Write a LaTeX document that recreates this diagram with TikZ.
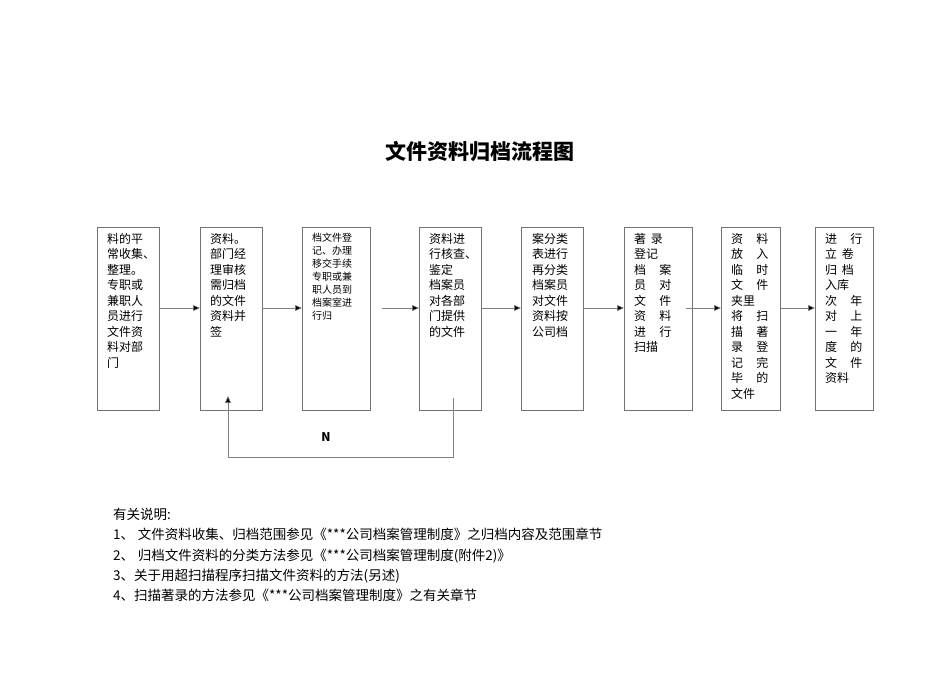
\documentclass[tikz,border=0pt]{standalone}
\usepackage{fontspec}
\setmainfont{Noto Sans CJK SC}
\usetikzlibrary{arrows.meta}
\newcommand{\gp}{\hspace{1.1em}}
\begin{document}
\begin{tikzpicture}[x=1pt,y=-1pt,
  box/.style={draw=black!55,line width=0.6pt},
  txt/.style={anchor=north west,align=left,font=\fontsize{12}{15.5}\selectfont,inner sep=0pt},
  arr/.style={draw=black!50,line width=0.6pt,-{Triangle[length=7pt,width=6pt,fill=black]}}]
\useasboundingbox (0,0) rectangle (950,673);
\node[font=\fontsize{21}{24}\selectfont\bfseries] (title) at (480,152) {文件资料归档流程图};
\foreach \n/\a/\b in {1/97/159,2/200/262,3/302/370,4/419/481,5/521/583,6/624/692,7/721/780,8/815/873}{
  \draw[box] (\a,227) rectangle (\b,410);
  \coordinate (L\n) at (\a,308); \coordinate (R\n) at (\b,308);
}
\node[txt] (t1) at (107,233) {料的平\\常收集、\\整理。\\专职或\\兼职人\\员进行\\文件资\\料对部\\门};
\node[txt] (t2) at (210,233) {资料。\\部门经\\理审核\\需归档\\的文件\\资料并\\签};
\node[txt,font=\fontsize{10}{13}\selectfont] (t3) at (312,233) {档文件登\\记、办理\\移交手续\\专职或兼\\职人员到\\档案室进\\行归};
\node[txt] (t4) at (429,233) {资料进\\行核查、\\鉴定\\档案员\\对各部\\门提供\\的文件};
\node[txt] (t5) at (532,233) {案分类\\表进行\\再分类\\档案员\\对文件\\资料按\\公司档};
\node[txt] (t6) at (634,233) {著\hspace{0.4em}录\\登记\\档\gp 案\\员\gp 对\\文\gp 件\\资\gp 料\\进\gp 行\\扫描};
\node[txt] (t7) at (731,233) {资\gp 料\\放\gp 入\\临\gp 时\\文\gp 件\\夹里\\将\gp 扫\\描\gp 著\\录\gp 登\\记\gp 完\\毕\gp 的\\文件};
\node[txt] (t8) at (825,233) {进\gp 行\\立\hspace{0.4em}卷\\归\hspace{0.4em}档\\入库\\次\gp 年\\对\gp 上\\一\gp 年\\度\gp 的\\文\gp 件\\资料};
\draw[arr] (R1) -- (L2);
\draw[arr] (R2) -- (L3);
\coordinate (s3) at (382,308);
\draw[arr] (s3) -- (L4);
\draw[arr] (R4) -- (L5);
\draw[arr] (R5) -- (L6);
\coordinate (s6) at (686,308);
\draw[arr] (s6) -- (L7);
\draw[arr] (R7) -- (L8);
\coordinate (f1) at (453,398); \coordinate (f2) at (453,457);
\coordinate (f3) at (228,457); \coordinate (f4) at (228,396);
\draw[arr] (f1) -- (f2) -- (f3) -- (f4);
\node[font=\fontsize{12}{13}\selectfont\bfseries] (N) at (326,437) {N};
\node[anchor=north west,align=left,inner sep=0pt,font=\fontsize{13.5}{20.3}\selectfont] (notes) at (113,508) {有关说明:\\
1、\;文件资料收集、归档范围参见《***公司档案管理制度》之归档内容及范围章节\\
2、\;归档文件资料的分类方法参见《***公司档案管理制度(附件2)》\\
3、关于用超扫描程序扫描文件资料的方法(另述)\\
4、扫描著录的方法参见《***公司档案管理制度》之有关章节};
\end{tikzpicture}
\end{document}
